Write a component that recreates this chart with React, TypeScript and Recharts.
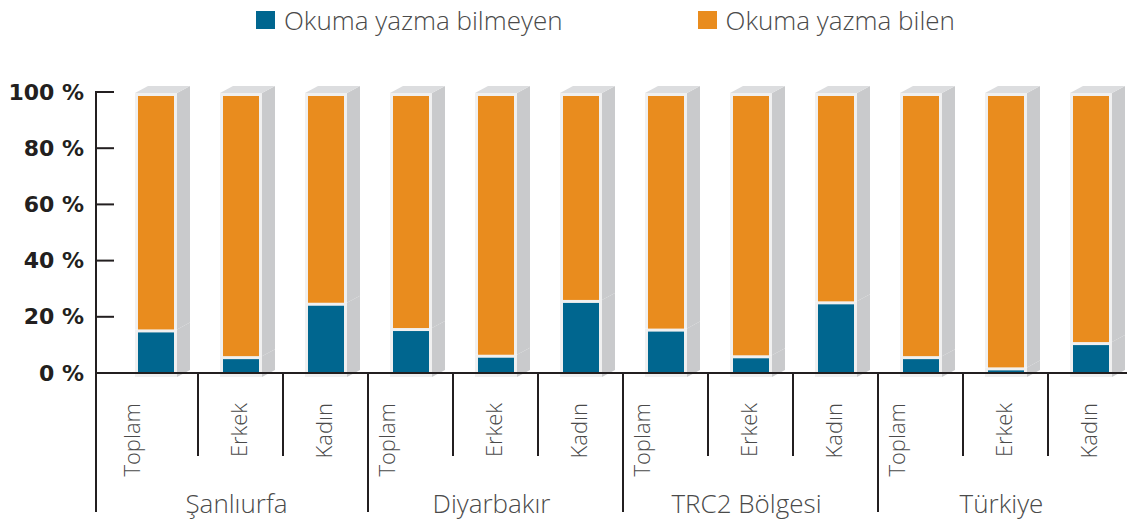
import { Bar, BarChart, XAxis, YAxis } from "recharts";

const categories = ["Toplam", "Erkek", "Kadın", "Toplam", "Erkek", "Kadın", "Toplam", "Erkek", "Kadın", "Toplam", "Erkek", "Kadın"];
const regions = ["Şanlıurfa", "Diyarbakır", "TRC2 Bölgesi", "Türkiye"];
const bilmeyen = [15.5, 6, 25, 16, 6.5, 26, 15.8, 6.3, 25.5, 6, 2, 11];
const bilen = [84.5, 94, 75, 84, 93.5, 74, 84.2, 93.7, 74.5, 94, 98, 89];
const yTicks = [0, 20, 40, 60, 80, 100];

const BLUE = "#00668f";
const ORANGE = "#e98c1e";
const INK = "#231f20";
const TEXT = "#4a4a4a";
const FONT = "'Open Sans', sans-serif";

const W = 1133;
const H = 522;
const X_AXIS_H = 149;
const AXIS_Y = H - X_AXIS_H;
const DEPTH_X = 13;
const DEPTH_Y = 7;

const data = categories.map((name, i) => ({
    name,
    region: regions[Math.floor(i / 3)],
    bilmeyen: bilmeyen[i],
    bilen: bilen[i],
}));

// front face with light frame plus grey side (and top for the upper segment)
function Block(props: any, color: string, isTop: boolean) {
    const { x, y, width, height } = props;
    const top = isTop ? y + 1 : y;
    const bottom = isTop ? y + height : y + height + 4;
    const r = x + width;
    return (
        <g>
            <polygon
                points={`${r},${top} ${r + DEPTH_X},${top - DEPTH_Y} ${r + DEPTH_X},${bottom - DEPTH_Y} ${r},${bottom}`}
                fill="#c9cacc"
            />
            {isTop && (
                <polygon
                    points={`${x},${top} ${x + DEPTH_X},${top - DEPTH_Y} ${r + DEPTH_X},${top - DEPTH_Y} ${r},${top}`}
                    fill="#dcdddf"
                />
            )}
            <rect x={x} y={top} width={width} height={bottom - top} fill="#f0f0f0" />
            <rect
                x={x + 3}
                y={top + 3}
                width={width - 6}
                height={Math.max(0, bottom - top - (isTop ? 3 : 6))}
                fill={color}
            />
        </g>
    );
}

function YTick(props: any) {
    const { y, payload } = props;
    return (
        <g>
            <line x1={96} x2={114} y1={y} y2={y} stroke={INK} strokeWidth={2} />
            {payload.value === 100 && <line x1={96} x2={96} y1={y - 1} y2={512} stroke={INK} strokeWidth={2} />}
            <text
                x={84}
                y={y}
                textAnchor="end"
                dominantBaseline="central"
                fontFamily="'DejaVu Sans', sans-serif"
                fontWeight={700}
                fontSize={22}
                fill={INK}
            >
                {`${payload.value} %`}
            </text>
        </g>
    );
}

function XTick(props: any) {
    const { x, payload, index } = props;
    const band = 85;
    const left = x - band / 2;
    const dx = payload.value === "Toplam" ? -25 : -3;
    return (
        <g>
            {index > 0 && (
                <line
                    x1={left}
                    x2={left}
                    y1={AXIS_Y}
                    y2={index % 3 === 0 ? 512 : 456}
                    stroke={INK}
                    strokeWidth={2}
                />
            )}
            <text
                transform={`translate(${x + dx},403) rotate(-90)`}
                textAnchor="end"
                dominantBaseline="central"
                fontFamily={FONT}
                fontWeight={300}
                fontSize={22}
                fill={TEXT}
            >
                {payload.value}
            </text>
            {index % 3 === 1 && (
                <text x={x - 4} y={513} textAnchor="middle" fontFamily={FONT} fontWeight={300} fontSize={26} fill={TEXT}>
                    {regions[Math.floor(index / 3)]}
                </text>
            )}
        </g>
    );
}

const legendItems = [
    { label: "Okuma yazma bilmeyen", color: BLUE },
    { label: "Okuma yazma bilen", color: ORANGE },
];

export default function App() {
    return (
        <div style={{ position: "absolute", left: 0, top: 0, width: 1127, height: H, overflow: "hidden", background: "#fff" }}>
            <div style={{ position: "absolute", left: 256, top: 2, display: "flex", gap: 135, fontFamily: FONT, fontWeight: 300, fontSize: 26, color: TEXT }}>
                {legendItems.map((it) => (
                    <div key={it.label} style={{ display: "flex", alignItems: "center" }}>
                        <span style={{ width: 19, height: 18, background: it.color, display: "inline-block", marginRight: 9 }} />
                        <span>{it.label}</span>
                    </div>
                ))}
            </div>
            <BarChart width={W} height={H} data={data} margin={{ top: 92, right: 0, bottom: 0, left: 0 }} barSize={42}>
                <XAxis
                    dataKey="name"
                    interval={0}
                    height={X_AXIS_H}
                    tickLine={false}
                    axisLine={{ stroke: INK, strokeWidth: 2 }}
                    tick={XTick}
                />
                <YAxis
                    width={113}
                    domain={[0, 100]}
                    ticks={yTicks}
                    axisLine={false}
                    tickLine={false}
                    tick={YTick}
                />
                <Bar dataKey="bilmeyen" stackId="a" isAnimationActive={false} shape={(p: any) => Block(p, BLUE, false)} />
                <Bar dataKey="bilen" stackId="a" isAnimationActive={false} shape={(p: any) => Block(p, ORANGE, true)} />
            </BarChart>
        </div>
    );
}
